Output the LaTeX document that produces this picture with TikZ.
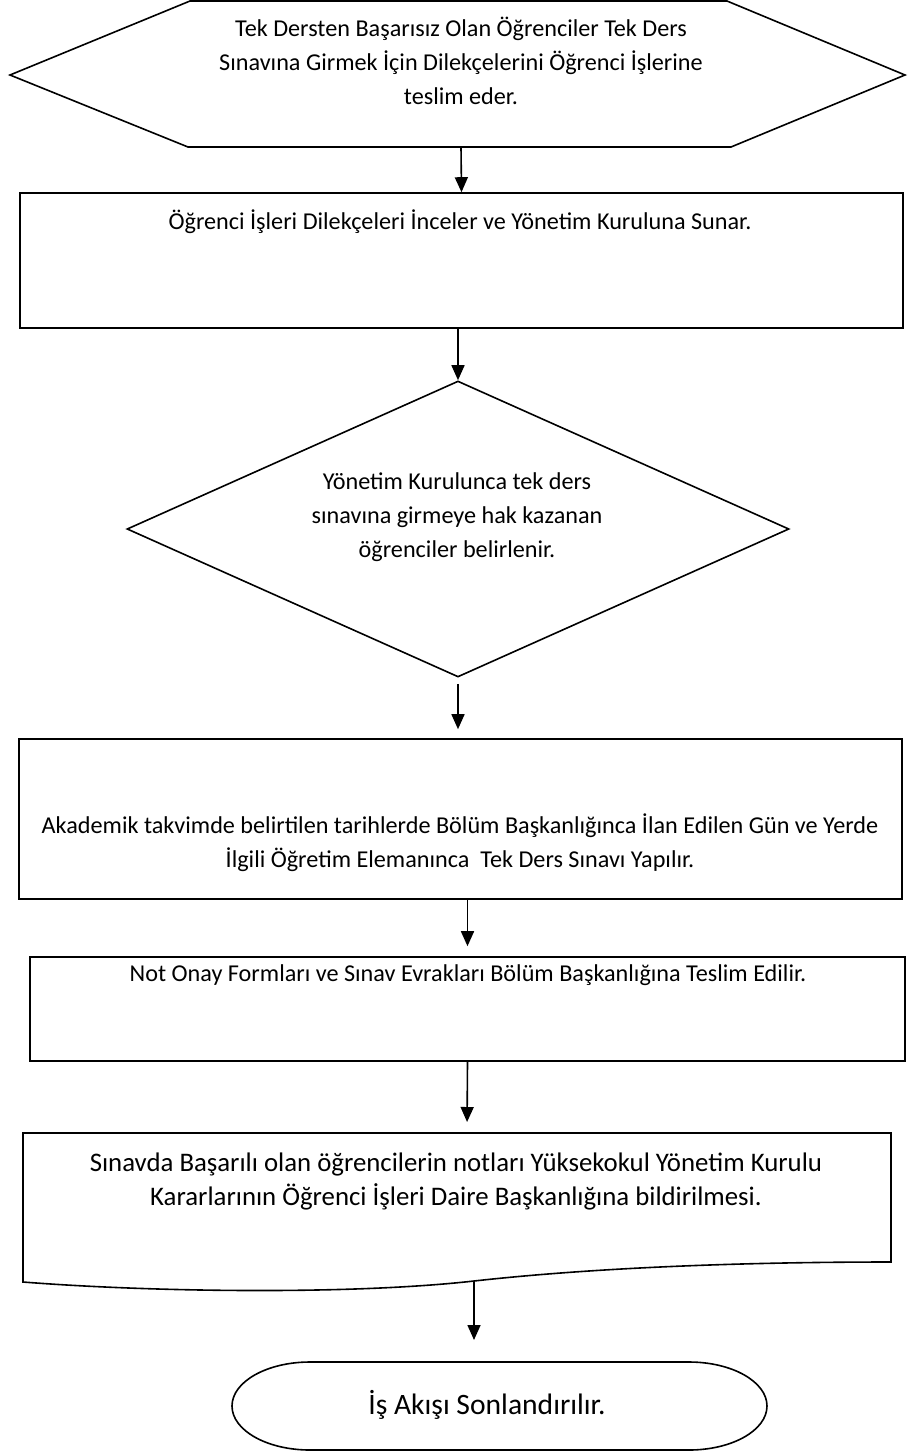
\documentclass[tikz,border=0pt]{standalone}
\usepackage{fontspec}
\setmainfont{Carlito}
\usetikzlibrary{arrows.meta,shapes.geometric}

\begin{document}
\begin{tikzpicture}[x=0.5pt,y=-0.5pt,line width=0.8pt,
			box node/.style={rectangle,draw,inner sep=0pt},
			choice node/.style={diamond,draw,inner sep=0pt},
			end node/.style={rectangle,inner sep=0pt,outer sep=0pt},
			text node/.style={align=center,inner sep=0pt,font=\fontsize{12.1}{17}\selectfont},
			flow/.style={-{Triangle[width=6.5pt,length=7.5pt]}}
			]
			
			\useasboundingbox (0,0) rectangle (907,1452);
			
			% start
			\draw (10,75) -- (190,1) -- (727,1) -- (905,75) -- (731,147) -- (188,147) -- cycle;
			\coordinate (hexS) at (461,147);
			\node[text node] (hexT) at (461,61) {Tek Dersten Başarısız Olan Öğrenciler Tek Ders\\Sınavına Girmek İçin Dilekçelerini Öğrenci İşlerine\\teslim eder.};
			
			\node[box node,minimum width=441.5pt,minimum height=67.5pt] (B1) at (461.5,260.5) {};
			\node[text node] (B1T) at (460,222) {Öğrenci İşleri Dilekçeleri İnceler ve Yönetim Kuruluna Sunar.};
			
			\node[choice node,minimum width=331pt,minimum height=148pt] (K) at (458,529) {};
			\node[text node] (KT) at (457,517) {Yönetim Kurulunca tek ders\\sınavına girmeye hak kazanan\\öğrenciler belirlenir.};
			
			\node[box node,minimum width=441.5pt,minimum height=80pt] (B3) at (460.5,819) {};
			\node[text node] (B3T) at (460,843) {Akademik takvimde belirtilen tarihlerde Bölüm Başkanlığınca İlan Edilen Gün ve Yerde\\İlgili Öğretim Elemanınca~ Tek Ders Sınavı Yapılır.};
			
			\node[box node,minimum width=437.5pt,minimum height=52pt] (B4) at (467.5,1009) {};
			\node[text node] (B4T) at (468,975) {Not Onay Formları ve Sınav Evrakları Bölüm Başkanlığına Teslim Edilir.};
			
			% document
			\draw (23,1133) -- (891,1133) -- (891,1262) .. controls (750,1262) and (600,1267) .. (474,1281) .. controls (350,1295) and (150,1292) .. (23,1282) -- cycle;
			\coordinate (docN) at (467,1133);
			\coordinate (docS) at (474,1281);
			\node[text node,font=\fontsize{13.4}{17}\selectfont] (DT) at (456,1181) {Sınavda Başarılı olan öğrencilerin notları Yüksekokul Yönetim Kurulu\\Kararlarının Öğrenci İşleri Daire Başkanlığına bildirilmesi.};
			
			% end
			\node[end node,minimum width=267.5pt,minimum height=44pt] (E) at (499.5,1406) {};
			\draw ([xshift=39pt]E.north west) -- ([xshift=-39pt]E.north east)
				arc[start angle=90,end angle=-90,x radius=39pt,y radius=22pt]
				-- ([xshift=39pt]E.south west)
				arc[start angle=270,end angle=90,x radius=39pt,y radius=22pt] -- cycle;
			\node[text node,font=\fontsize{14.8}{17}\selectfont] (ET) at (487,1405) {İş Akışı Sonlandırılır.};
			
			\draw[flow] (hexS) -- (B1.north);
			\draw[flow] (K.north |- B1.south) -- (K.north);
			\draw[flow,shorten <=3pt,shorten >=4.5pt] (K.south) -- (K.south |- B3.north);
			\draw[flow,shorten >=5pt] (B4.north |- B3.south) -- (B4.north);
			\draw[flow,shorten >=5.5pt] (B4.south) -- (docN);
			\draw[flow,shorten >=11pt] (docS) -- (docS |- E.north);
			\end{tikzpicture}
\end{document}
